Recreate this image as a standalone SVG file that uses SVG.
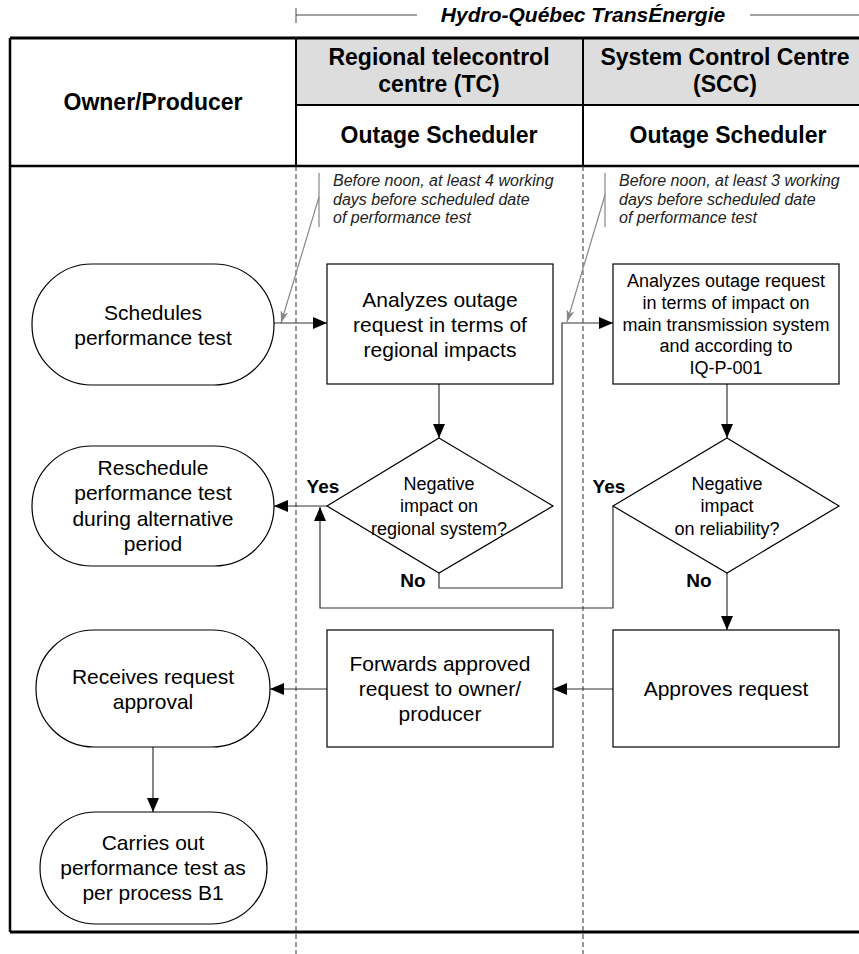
<svg xmlns="http://www.w3.org/2000/svg" width="859" height="954" viewBox="0 0 859 954">
<defs>
<style>
text{font-family:"Liberation Sans",Arial,Helvetica,sans-serif;fill:#000}
.hdr{font-size:23px;font-weight:bold;text-anchor:middle}
.ttl{font-size:21px;font-weight:bold;font-style:italic;text-anchor:middle}
.note{font-size:16px;font-style:italic;fill:#222}
.t21{font-size:21px;text-anchor:middle}
.t18{font-size:18px;text-anchor:middle}
.lbl{font-size:19px;font-weight:bold;text-anchor:middle}
.shape{fill:#fff;stroke:#000;stroke-width:1.2}
.con{fill:none;stroke:#333;stroke-width:1.2}
.ptr{fill:none;stroke:#888;stroke-width:1.2}
.frm{stroke:#000;fill:none}
.dash{stroke:#333;stroke-width:1;stroke-dasharray:5,3;fill:none}
</style>
<marker id="arr" markerUnits="userSpaceOnUse" markerWidth="14" markerHeight="12" refX="14" refY="6" orient="auto"><path d="M0,0 L14,6 L0,12 z" fill="#000"/></marker>
<marker id="garr" markerUnits="userSpaceOnUse" markerWidth="12" markerHeight="8" refX="12" refY="4" orient="auto"><path d="M0,0 L12,4 L0,8 L3,4 z" fill="#888"/></marker>
</defs>
<rect x="0" y="0" width="859" height="954" fill="#fff"/>

<g id="header">
<path d="M296,8 V23 M296,15 H417 M750,15 H859" stroke="#444" stroke-width="1" fill="none"/>
<text class="ttl" x="583" y="22">Hydro-Québec TransÉnergie</text>
<rect x="296" y="38" width="563" height="67" fill="#dddddd"/>
<path class="frm" d="M10,38 H859" stroke-width="3"/>
<path class="frm" d="M10,38 V932" stroke-width="2.5"/>
<path class="frm" d="M10,932 H859" stroke-width="3"/>
<path class="frm" d="M10,166 H859" stroke-width="2.5"/>
<path class="frm" d="M296,105 H859" stroke-width="2"/>
<path class="frm" d="M296,38 V166 M583,38 V166" stroke-width="2"/>
<path class="dash" d="M296,166 V954 M583,166 V954"/>
<text class="hdr" x="153" y="110">Owner/Producer</text>
<text class="hdr" x="439" y="65">Regional telecontrol</text>
<text class="hdr" x="439" y="92">centre (TC)</text>
<text class="hdr" x="439" y="143">Outage Scheduler</text>
<text class="hdr" x="725" y="65">System Control Centre</text>
<text class="hdr" x="725" y="92">(SCC)</text>
<text class="hdr" x="728" y="143">Outage Scheduler</text>
</g>

<g id="notes">
<path class="ptr" d="M319,173 V227 M605,173 V227"/>
<text class="note" x="333" y="186">Before noon, at least 4 working</text>
<text class="note" x="333" y="204.5">days before scheduled date</text>
<text class="note" x="333" y="223">of performance test</text>
<text class="note" x="619" y="186">Before noon, at least 3 working</text>
<text class="note" x="619" y="204.5">days before scheduled date</text>
<text class="note" x="619" y="223">of performance test</text>
</g>

<g id="connectors">
<path class="ptr" d="M319,197 L281,323" marker-end="url(#garr)"/>
<path class="ptr" d="M605,195 L567,322" marker-end="url(#garr)"/>
<path class="con" d="M274,323 H327" marker-end="url(#arr)"/>
<path class="con" d="M439,384 V438" marker-end="url(#arr)"/>
<path class="con" d="M327,506 H274" marker-end="url(#arr)"/>
<path class="con" d="M439,573 V588 H562 V323 H613" marker-end="url(#arr)"/>
<path class="con" d="M727,384 V438" marker-end="url(#arr)"/>
<path class="con" d="M613,506 V608 H320 V507" marker-end="url(#arr)"/>
<path class="con" d="M727,573 V630" marker-end="url(#arr)"/>
<path class="con" d="M613,689 H553" marker-end="url(#arr)"/>
<path class="con" d="M327,689 H270" marker-end="url(#arr)"/>
<path class="con" d="M153,747 V812" marker-end="url(#arr)"/>
<text class="lbl" x="323" y="493">Yes</text>
<text class="lbl" x="609" y="493">Yes</text>
<text class="lbl" x="413" y="587">No</text>
<text class="lbl" x="699" y="587">No</text>
</g>

<g id="schedules">
<rect class="shape" x="32" y="264" width="242" height="121" rx="60" ry="60"/>
<text class="t21" x="153" y="319.5">Schedules</text>
<text class="t21" x="153" y="345">performance test</text>
</g>

<g id="tc_analyze">
<rect class="shape" x="327" y="264" width="226" height="120"/>
<text class="t21" x="440" y="306.5">Analyzes outage</text>
<text class="t21" x="440" y="331.5">request in terms of</text>
<text class="t21" x="440" y="356.5">regional impacts</text>
</g>

<g id="scc_analyze">
<rect class="shape" x="613" y="264" width="226" height="120"/>
<text class="t18" x="726" y="287">Analyzes outage request</text>
<text class="t18" x="726" y="309">in terms of impact on</text>
<text class="t18" x="726" y="330.5">main transmission system</text>
<text class="t18" x="726" y="352">and according to</text>
<text class="t18" x="726" y="374">IQ-P-001</text>
</g>

<g id="tc_decision">
<polygon class="shape" points="439,438 553,506 439,573 327,506"/>
<text class="t18" x="439" y="489.5">Negative</text>
<text class="t18" x="439" y="512">impact on</text>
<text class="t18" x="439" y="534.5">regional system?</text>
</g>

<g id="scc_decision">
<polygon class="shape" points="727,438 839,506 727,573 613,506"/>
<text class="t18" x="727" y="490">Negative</text>
<text class="t18" x="727" y="512">impact</text>
<text class="t18" x="727" y="534.5">on reliability?</text>
</g>

<g id="reschedule">
<rect class="shape" x="32" y="446" width="242" height="120" rx="60" ry="60"/>
<text class="t21" x="153" y="474.5">Reschedule</text>
<text class="t21" x="153" y="500">performance test</text>
<text class="t21" x="153" y="525.5">during alternative</text>
<text class="t21" x="153" y="551">period</text>
</g>

<g id="approves">
<rect class="shape" x="613" y="630" width="226" height="117"/>
<text class="t21" x="726" y="695.5">Approves request</text>
</g>

<g id="forwards">
<rect class="shape" x="327" y="630" width="226" height="117"/>
<text class="t21" x="440" y="670.5">Forwards approved</text>
<text class="t21" x="440" y="695.5">request to owner/</text>
<text class="t21" x="440" y="721">producer</text>
</g>

<g id="receives">
<rect class="shape" x="36" y="630" width="234" height="117" rx="58" ry="58"/>
<text class="t21" x="153" y="684">Receives request</text>
<text class="t21" x="153" y="709">approval</text>
</g>

<g id="carries">
<rect class="shape" x="40" y="812" width="227" height="112" rx="56" ry="56"/>
<text class="t21" x="153" y="849.5">Carries out</text>
<text class="t21" x="153" y="874.5">performance test as</text>
<text class="t21" x="153" y="900">per process B1</text>
</g>
</svg>
